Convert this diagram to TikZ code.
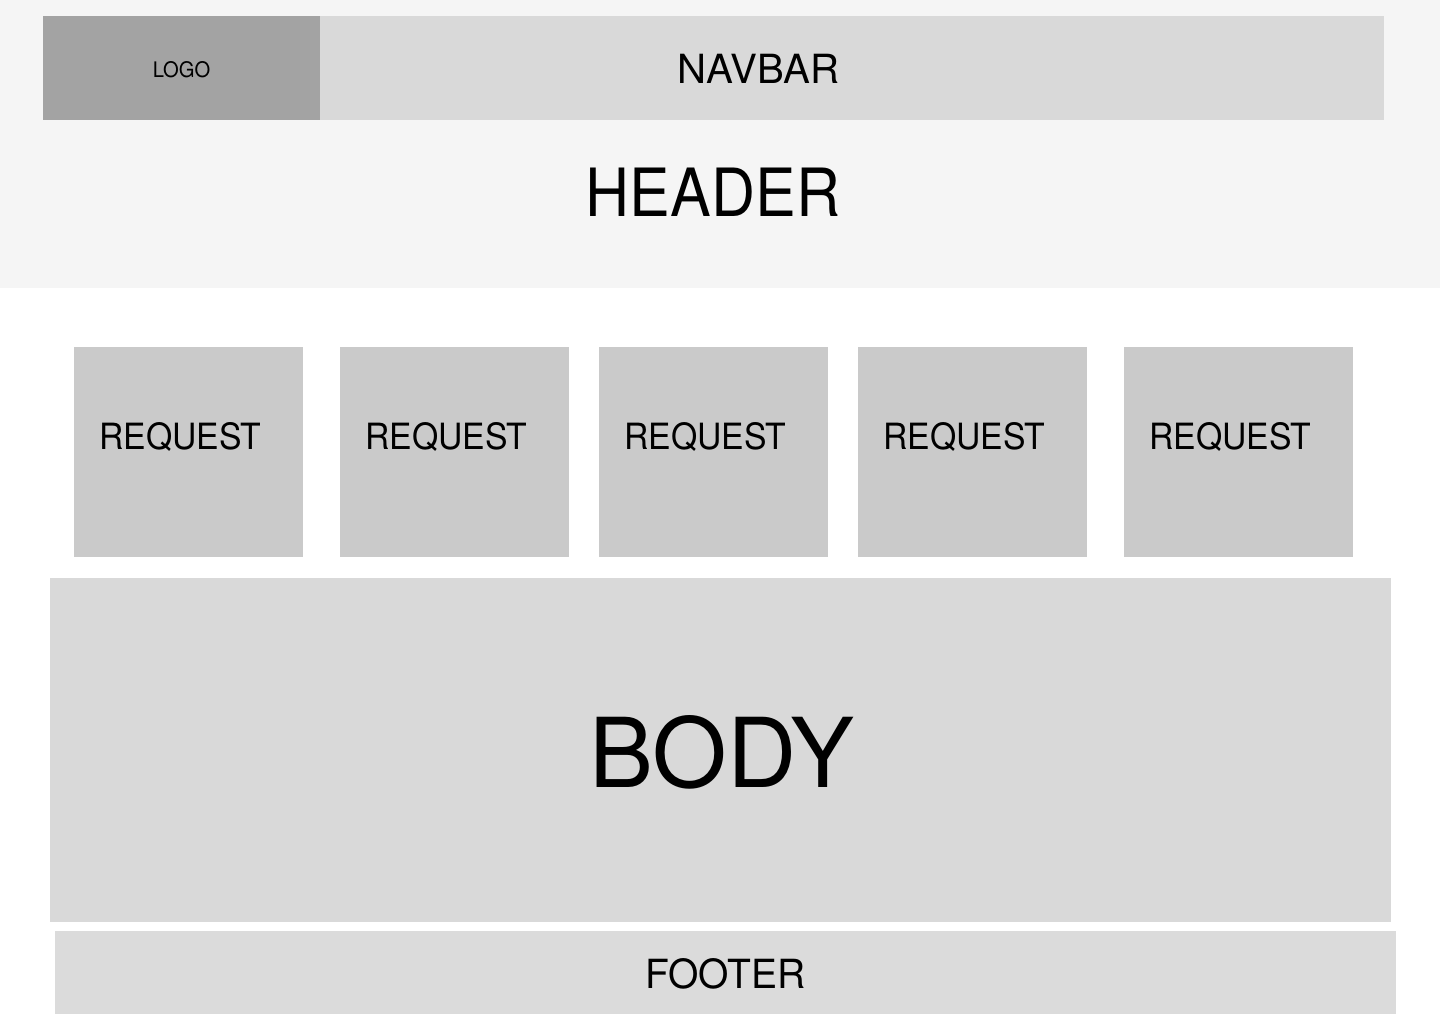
\documentclass[tikz,border=0pt]{standalone}
\usepackage{fontspec}
\setmainfont{TeX Gyre Heros}
\usepackage{graphicx}
\definecolor{hdrbg}{HTML}{F5F5F5}
\definecolor{navgray}{HTML}{D9D9D9}
\definecolor{logogray}{HTML}{A3A3A3}
\definecolor{reqgray}{HTML}{CACACA}
\definecolor{bodygray}{HTML}{D9D9D9}
\definecolor{footgray}{HTML}{DBDBDB}
\tikzset{
  block/.style={rectangle, draw=none, inner sep=0pt, outer sep=0pt},
  label text/.style={anchor=base, inner sep=0pt, outer sep=0pt, text=black},
}
\begin{document}
\begin{tikzpicture}[x=1pt,y=-1pt]
\useasboundingbox (0,0) rectangle (1440,1024);
\fill[white] (0,0) rectangle (1440,1024);
% header
\node[block, fill=hdrbg, minimum width=1440pt, minimum height=288pt] (header) at (720,144) {};
\node[block, fill=navgray, minimum width=1341pt, minimum height=104pt] (navbar) at (713.5,68) {};
\node[block, fill=logogray, minimum width=277pt, minimum height=104pt] (logo) at (181.5,68) {};
\node[label text] (logotxt) at (181.5,78) {\resizebox{57.5pt}{16pt}{LOGO}};
\node[label text] (navtxt) at (758.5,83.3) {\resizebox{161pt}{29.3pt}{NAVBAR}};
\node[label text] (hdrtxt) at (713,216.7) {\resizebox{254pt}{48.5pt}{HEADER}};
% requests
\foreach \i/\cx in {1/188.5, 2/454.5, 3/713.5, 4/972.5, 5/1238.5}{
  \node[block, fill=reqgray, minimum width=229pt, minimum height=210pt] (req\i) at (\cx,452) {};
  \node[label text] (reqtxt\i) at (\cx-8,449) {\resizebox{162pt}{27pt}{REQUEST}};
}
% body
\node[block, fill=bodygray, minimum width=1341pt, minimum height=343.5pt] (body) at (720.5,749.75) {};
\node[label text] (bodytxt) at (722,787) {\resizebox{265pt}{72pt}{BODY}};
% footer
\node[block, fill=footgray, minimum width=1341pt, minimum height=83pt] (footer) at (725.5,972.5) {};
\node[label text] (foottxt) at (725.5,988) {\resizebox{160pt}{30pt}{FOOTER}};
\end{tikzpicture}
\end{document}
